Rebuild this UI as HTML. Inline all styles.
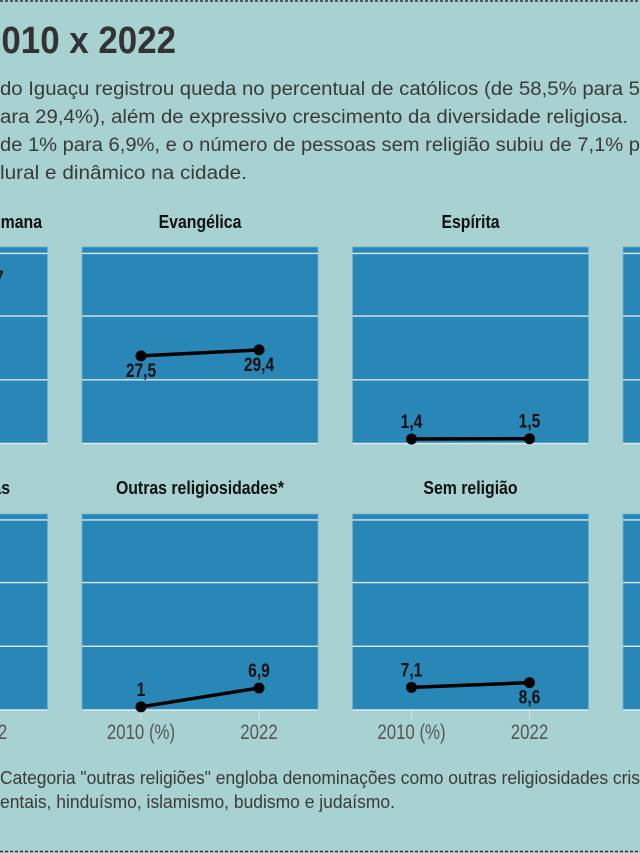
<!DOCTYPE html>
<html><head><meta charset="utf-8"><style>
html,body{margin:0;padding:0;background:#a8d1d1;}
svg{display:block;}
text{font-family:"Liberation Sans Narrow","Liberation Sans",sans-serif;}
</style></head><body>
<svg id="chart" width="640" height="853" viewBox="0 0 640 853" xmlns="http://www.w3.org/2000/svg">
<rect width="640" height="853" fill="#a8d1d1"/>
<line x1="0" y1="1" x2="640" y2="1" stroke="#333" stroke-width="1.5" stroke-dasharray="3,2"/>
<line x1="0" y1="851.5" x2="640" y2="851.5" stroke="#333" stroke-width="1.5" stroke-dasharray="3,2"/>
<text x="-18" y="53" font-size="38" font-weight="bold" fill="#333" textLength="194" lengthAdjust="spacingAndGlyphs">2010 x 2022</text>
<g fill="#3a3a3a" font-size="19">
<text x="0" y="95" textLength="640" lengthAdjust="spacingAndGlyphs">do Iguaçu registrou queda no percentual de católicos (de 58,5% para 5</text>
<text x="0" y="123" textLength="628" lengthAdjust="spacingAndGlyphs">ara 29,4%), além de expressivo crescimento da diversidade religiosa.</text>
<text x="0" y="151" textLength="640" lengthAdjust="spacingAndGlyphs">de 1% para 6,9%, e o número de pessoas sem religião subiu de 7,1% p</text>
<text x="0" y="179" textLength="247" lengthAdjust="spacingAndGlyphs">lural e dinâmico na cidade.</text>
</g>
<g fill="#3a3a3a" font-size="18">
<text x="0" y="784" textLength="640" lengthAdjust="spacingAndGlyphs">Categoria "outras religiões" engloba denominações como outras religiosidades cris</text>
<text x="0" y="808" textLength="395" lengthAdjust="spacingAndGlyphs">entais, hinduísmo, islamismo, budismo e judaísmo.</text>
</g>
<g id="panels"></g>
</svg>
<script>
const panelTitles = ["Católica Apostólica Romana","Evangélica","Espírita","Umbanda e Candomblé","Cristãs diversas","Outras religiosidades*","Sem religião","Outras"];
const years = ["2010 (%)","2022"];
const values2010 = [58.5, 27.5, 1.4, null, null, 1, 7.1, null];
const values2022 = [46.7, 29.4, 1.5, null, null, 6.9, 8.6, null];
const labelSide2010 = ["above","below","above",null,null,"above","above",null];
const labelSide2022 = ["above","below","above",null,null,"above","below",null];
const yTicks = [0, 20, 40, 60];

const NS = "http://www.w3.org/2000/svg";
const g = document.getElementById("panels");
const panelW = 236, colStep = 270.5, firstX = -188.5;
const rowTops = [247, 514], rowBottoms = [443.5, 710];
function mk(tag, attrs, parent){const e=document.createElementNS(NS,tag);for(const k in attrs)e.setAttribute(k,attrs[k]);(parent||g).appendChild(e);return e;}
function condense(t, f){const w=t.getComputedTextLength();if(w>0){t.setAttribute("textLength",(w*f).toFixed(1));t.setAttribute("lengthAdjust","spacingAndGlyphs");}}
function fmt(v){return String(v).replace(".",",");}
panelTitles.forEach((title,i)=>{
  const row = Math.floor(i/4), col = i%4;
  const x0 = firstX + col*colStep, top = rowTops[row], bot = rowBottoms[row];
  const ys = v => bot - v*3.185;
  const xs = j => x0 + 59 + j*118;
  const pg = mk("g",{});
  
  
  const r = mk("rect",{x:x0,y:top,width:panelW,height:bot-top,fill:"#2887b7",stroke:"#6fb0cf","stroke-width":"0.8"},pg);
  
  
  yTicks.forEach(t=>{
    const l = mk("line",{x1:x0,x2:x0+panelW,y1:ys(t)+(t===60?1:0),y2:ys(t)+(t===60?1:0),stroke:"#dce9ee","stroke-width":"1.4"},pg);
    
    
  });
  const tt = mk("text",{x:x0+panelW/2,y:row===0?228:494,"text-anchor":"middle","font-size":"18","font-weight":"bold",fill:"#111"},pg);
  if(col===0){tt.setAttribute("x",row===0?42:10);tt.setAttribute("text-anchor","end");}
  tt.textContent = title;
  
  
  condense(tt, 0.88);
  if(row===1){
    years.forEach((y,j)=>{
      const tk = mk("line",{x1:xs(j),x2:xs(j),y1:bot,y2:bot+10,stroke:"#dde","stroke-width":"1"},pg);
      
      
      const lb = mk("text",{x:xs(j),y:739,"text-anchor":"middle","font-size":"21",fill:"#555"},pg);
      lb.textContent = y;
      
      
      condense(lb, 0.8);
    });
  }
  const a = values2010[i], b = values2022[i];
  if(a!=null && b!=null){
    const ln = mk("line",{x1:xs(0),y1:ys(a),x2:xs(1),y2:ys(b),stroke:"#000","stroke-width":"3.5"},pg);
    
    
    [[a,labelSide2010[i]],[b,labelSide2022[i]]].forEach(([v,side],j)=>{
      const c = mk("circle",{cx:xs(j),cy:ys(v),r:5.5,fill:"#000"},pg);
      
      
      const t = mk("text",{x:xs(j),y:side==="above"?ys(v)-11:ys(v)+21,"text-anchor":"middle","font-size":"19","font-weight":"bold",fill:"#111"},pg);
      t.textContent = fmt(v);
      
      
      condense(t, 0.82);
    });
  }
});
</script>
</body></html>
